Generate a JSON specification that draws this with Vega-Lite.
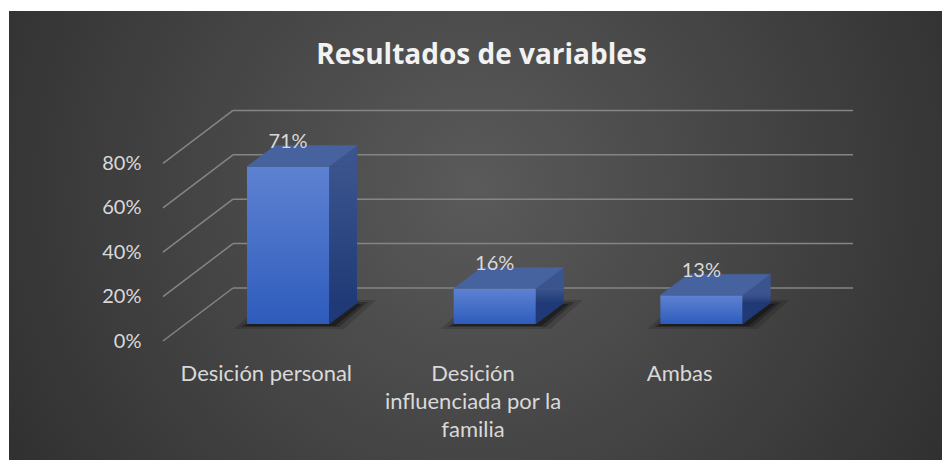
{
  "$schema": "https://vega.github.io/schema/vega-lite/v6.json",
  "width": 933,
  "height": 449,
  "autosize": {"type": "none"},
  "padding": {"left": 9, "top": 11, "right": 2, "bottom": 0},
  "background": "#ffffff",
  "view": {
    "stroke": null,
    "fill": {"gradient": "radial", "x1": 0.5, "y1": 0.45, "x2": 0.5, "y2": 0.45, "r1": 0, "r2": 0.72,
      "stops": [{"offset": 0, "color": "#5a5a5a"}, {"offset": 1, "color": "#262626"}]}
  },
  "title": {
    "text": "Resultados de variables",
    "font": "Open Sans",
    "fontSize": 28,
    "fontWeight": "bold",
    "color": "#f2f2f2",
    "anchor": "middle",
    "frame": "group",
    "baseline": "middle",
    "offset": -73,
    "dx": 6
  },
  "config": {
    "axis": {"labelFont": "Lato", "labelColor": "#d9d9d9", "labelFontSize": 20, "grid": false, "domain": false, "ticks": false}
  },
  "layer": [
    {
      "data": {"values": [{"t": 0}, {"t": 0.2}, {"t": 0.4}, {"t": 0.6}, {"t": 0.8}]},
      "encoding": {
        "x": {"datum": 0, "type": "quantitative", "scale": {"domain": [0, 3], "range": [154, 774]}, "axis": null},
        "y": {
          "field": "t", "type": "quantitative",
          "scale": {"domain": [-0.536, 1.4865], "nice": false, "zero": false},
          "axis": {"title": null, "values": [0, 0.2, 0.4, 0.6, 0.8], "format": ".0%", "offset": -134, "labelPadding": 2}
        }
      },
      "layer": [
        {
          "mark": {"type": "rule", "color": "#858585", "strokeWidth": 1.5, "x2Offset": 70, "y2Offset": -53},
          "encoding": {"x2": {"datum": 0}, "y2": {"field": "t"}}
        },
        {
          "mark": {"type": "rule", "color": "#858585", "strokeWidth": 1.5, "xOffset": 70, "x2Offset": 70, "yOffset": -53},
          "encoding": {"x2": {"datum": 3}}
        }
      ]
    },
    {
      "data": {"values": [
        {"cat": "Desición personal", "value": 0.71},
        {"cat": "Desición influenciada por la familia", "value": 0.16},
        {"cat": "Ambas", "value": 0.13}
      ]},
      "encoding": {
        "x": {
          "field": "cat", "type": "nominal", "sort": null,
          "scale": {"type": "band", "range": [154, 774], "paddingInner": 0, "paddingOuter": 0},
          "axis": {
            "title": null, "orient": "bottom", "offset": -97, "labelPadding": 0, "labelAngle": 0,
            "labelBaseline": "top", "labelLineHeight": 28, "labelLimit": 0, "labelFontSize": 22,
            "labelExpr": "datum.label == 'Desición influenciada por la familia' ? ['Desición', 'influenciada por la', 'familia'] : datum.label"
          }
        },
        "y": {
          "field": "value", "type": "quantitative",
          "scale": {"domain": [-0.536, 1.4865], "nice": false, "zero": false},
          "axis": {"title": null, "values": [0, 0.2, 0.4, 0.6, 0.8], "format": ".0%", "offset": -134, "labelPadding": 2}
        }
      },
      "layer": [
        {
          "mark": {"type": "point", "shape": "M -54 5 L 56 5 L 88 -24 L -22 -24 Z", "size": 4, "filled": true, "fill": "#000000", "opacity": 0.15, "strokeWidth": 0, "xOffset": 21.7, "yOffset": -17},
          "encoding": {"y": {"datum": 0}}
        },
        {
          "mark": {"type": "point", "shape": "M -47 3 L 51 3 L 80 -22 L -17 -22 Z", "size": 4, "filled": true, "fill": "#000000", "opacity": 0.25, "strokeWidth": 0, "xOffset": 21.7, "yOffset": -17},
          "encoding": {"y": {"datum": 0}}
        },
        {
          "mark": {"type": "point", "shape": "M -43 2 L 47 2 L 74 -20 L -12 -20 Z", "size": 4, "filled": true, "fill": "#000000", "opacity": 0.35, "strokeWidth": 0, "xOffset": 21.7, "yOffset": -17},
          "encoding": {"y": {"datum": 0}}
        },
        {
          "mark": {"type": "point", "shape": "M 41 -21 L 41 0 L 69 -21 Z", "size": 4, "filled": true, "fill": "#1f3a76", "stroke": "#1f3a76", "strokeWidth": 0.6, "opacity": 1, "xOffset": 21.7, "yOffset": -17},
          "encoding": {"y": {"datum": 0}}
        },
        {
          "mark": {
            "type": "bar", "width": {"band": 0.1355}, "xOffset": 76.7, "yOffset": -17, "y2Offset": -38,
            "color": {"gradient": "linear", "x1": 0, "y1": 0, "x2": 0, "y2": 1,
              "stops": [{"offset": 0, "color": "#3b548e"}, {"offset": 1, "color": "#1f3a76"}]}
          },
          "encoding": {"y2": {"datum": 0}}
        },
        {
          "mark": {"type": "point", "shape": "M 41 0 L 69 -21 L 69 0 Z", "size": 4, "filled": true, "fill": "#3b548e", "stroke": "#3b548e", "strokeWidth": 0.6, "opacity": 1, "xOffset": 21.7, "yOffset": -17}
        },
        {
          "mark": {
            "type": "bar", "width": {"band": 0.397}, "xOffset": 21.7, "yOffset": -17, "y2Offset": -17,
            "color": {"gradient": "linear", "x1": 0, "y1": 0, "x2": 0, "y2": 1,
              "stops": [{"offset": 0, "color": "#5e82d2"}, {"offset": 1, "color": "#2e5cbc"}]}
          },
          "encoding": {"y2": {"datum": 0}}
        },
        {
          "mark": {"type": "point", "shape": "M -41 0 L 41 0 L 69 -21 L -13 -21 Z", "size": 4, "filled": true, "fill": "#46629f", "stroke": "#46629f", "strokeWidth": 0.5, "opacity": 1, "xOffset": 21.7, "yOffset": -17}
        },
        {
          "mark": {"type": "text", "font": "Lato", "fontSize": 20, "color": "#d9d9d9", "baseline": "middle", "xOffset": 21.7, "yOffset": -41},
          "encoding": {"text": {"field": "value", "type": "quantitative", "format": ".0%"}}
        }
      ]
    }
  ],
  "resolve": {"scale": {"x": "independent"}}
}
